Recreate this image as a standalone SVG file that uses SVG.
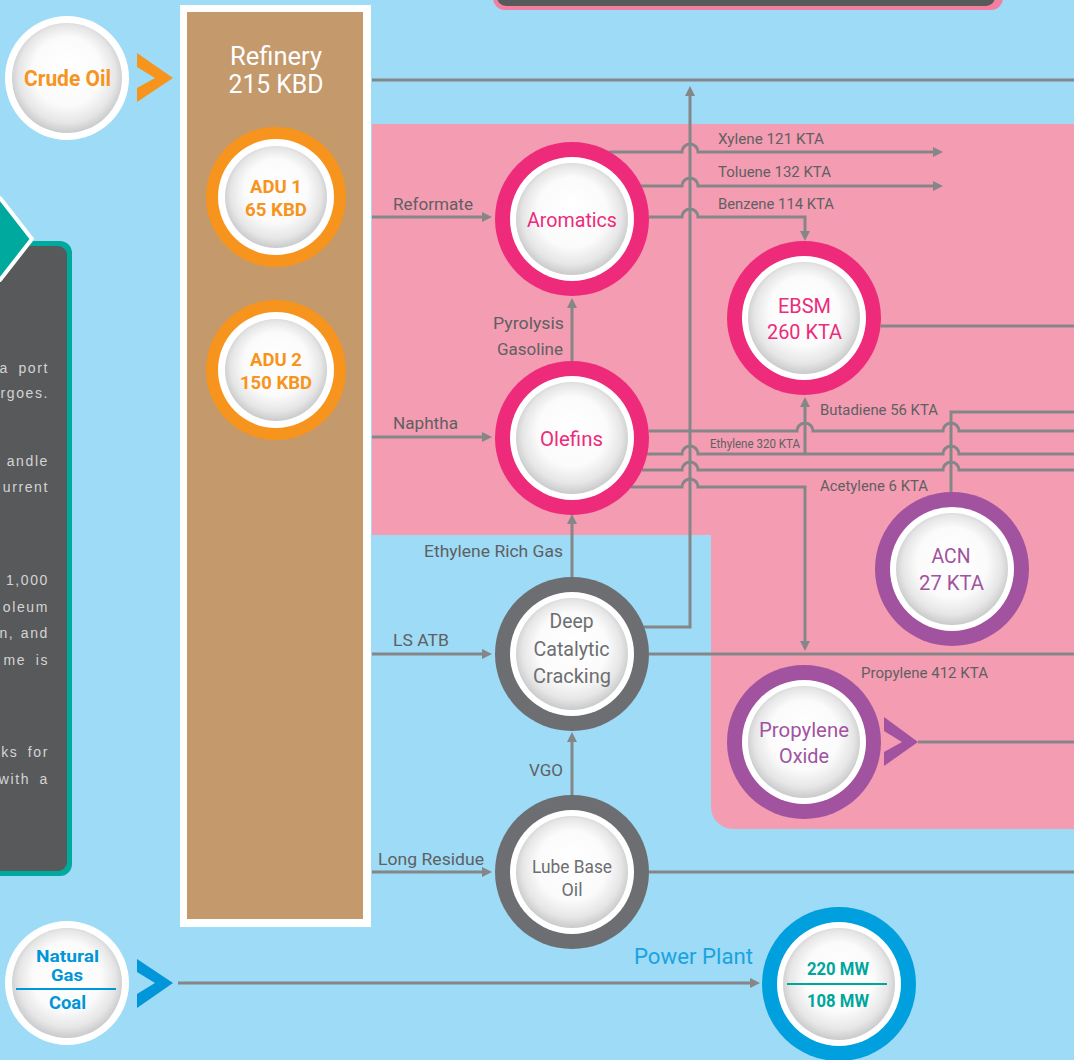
<svg xmlns="http://www.w3.org/2000/svg" width="1074" height="1060" viewBox="0 0 1074 1060">
<defs>
<radialGradient id="pearl" cx="50%" cy="48%" r="52%" fx="50%" fy="38%">
<stop offset="0" stop-color="#ffffff"/>
<stop offset="0.6" stop-color="#fbfbfb"/>
<stop offset="0.85" stop-color="#e6e6e7"/>
<stop offset="1" stop-color="#c9cacb"/>
</radialGradient>
<marker id="arr" markerWidth="10" markerHeight="10" refX="1" refY="5" orient="auto" markerUnits="userSpaceOnUse"><path d="M0,0 L10,5 L0,10 Z" fill="#858688"/></marker>
</defs>
<style>
text{font-family:Roboto,'Liberation Sans',sans-serif}
.lbl{fill:#5f6062;font-size:17px}
.sm{font-size:15px}
.con{fill:none;stroke:#858688;stroke-width:3}
.arr{marker-end:url(#arr)}
.wh{fill:#fff}
.pearl{fill:url(#pearl)}
.mag{fill:#ed2b7a}
.pur{fill:#a1539f}
.gry{fill:#6d6e71}
.org{fill:#f7941d}
.blu{fill:#00a0df}
.nt{font-size:21px;text-anchor:middle}
.b{font-weight:bold}
.side{fill:#d4d4d4;font-size:14px;text-anchor:end;letter-spacing:1.6px;word-spacing:4px;font-family:'Liberation Sans',sans-serif}
</style>

<!-- backgrounds -->
<rect x="0" y="0" width="1074" height="1060" fill="#9ddbf6"/>
<path d="M372,124 H1074 V829 H733 A22 22 0 0 1 711,807 V535 H372 Z" fill="#f49cb2"/>
<rect x="493" y="-40" width="510" height="50" rx="12" fill="#f47ea0"/>
<rect x="497" y="-40" width="498" height="46" rx="9" fill="#58595b"/>

<!-- left info panel -->
<g id="info-panel">
<rect x="-20" y="241" width="92" height="635" rx="12" fill="#00a99d"/>
<rect x="-20" y="246" width="87" height="625" rx="9" fill="#58595b"/>
<polygon points="32,239 0,198 -32,239 0,280" fill="#00a99d" stroke="#fff" stroke-width="4" stroke-linejoin="round"/>
<text class="side" x="49" y="373">a port</text>
<text class="side" x="49" y="398">rgoes.</text>
<text class="side" x="49" y="466">andle</text>
<text class="side" x="49" y="492">urrent</text>
<text class="side" x="49" y="585">1,000</text>
<text class="side" x="49" y="612">oleum</text>
<text class="side" x="49" y="638" style="word-spacing:1px">n, and</text>
<text class="side" x="49" y="665">me is</text>
<text class="side" x="49" y="757">ks for</text>
<text class="side" x="49" y="784">with a</text>
</g>

<!-- connectors -->
<g id="connectors">
<polygon points="137,53 173,78 137,102 137,88 155,78 137,67" fill="#f7941d"/>
<polygon points="137,959 173,983 137,1008 137,994 155,983 137,972" fill="#0096d9"/>
<polygon points="884,717 918,742 884,766 884,752 902,742 884,731" fill="#a1539f"/>
<path class="con" d="M372,80 H1074"/>
<path class="con arr" d="M372,217 H483"/>
<path class="con arr" d="M372,437 H483"/>
<path class="con arr" d="M372,654 H483"/>
<path class="con arr" d="M372,872 H483"/>
<path class="con arr" d="M572,361 V307"/>
<path class="con arr" d="M572,577 V523"/>
<path class="con arr" d="M572,795 V741"/>
<path class="con arr" d="M644,627 H690 V95"/>
<path class="con" d="M649,654 H1074"/>
<path class="con" d="M649,872 H1074"/>
<path class="con arr" d="M609,152 H682 A8,8 0 0 1 698,152 H934"/>
<path class="con arr" d="M641,186 H682 A8,8 0 0 1 698,186 H934"/>
<path class="con arr" d="M649,217 H682 A8,8 0 0 1 698,217 H805 V232"/>
<path class="con" d="M881,326 H1074"/>
<path class="con" d="M649,431 H797 A8,8 0 0 1 813,431 H943 A8,8 0 0 1 959,431 H1074"/>
<path class="con" d="M647,454 H682 A8,8 0 0 1 698,454 H943 A8,8 0 0 1 959,454 H1074"/>
<path class="con arr" d="M805,454 V406"/>
<path class="con" d="M642,470 H682 A8,8 0 0 1 698,470 H943 A8,8 0 0 1 959,470 H1074"/>
<path class="con arr" d="M631,487 H682 A8,8 0 0 1 698,487 H805 V642"/>
<path class="con" d="M951,492 V412 H1074"/>
<path class="con" d="M918,742 H1074"/>
<path class="con arr" d="M178,983 H751"/>
</g>

<!-- connector labels -->
<g id="labels">
<text class="lbl" x="393" y="210" textLength="80" lengthAdjust="spacingAndGlyphs">Reformate</text>
<text class="lbl" x="393" y="429" textLength="65" lengthAdjust="spacingAndGlyphs">Naphtha</text>
<text class="lbl" x="393" y="646" textLength="56" lengthAdjust="spacingAndGlyphs">LS ATB</text>
<text class="lbl" x="378" y="865" textLength="106" lengthAdjust="spacingAndGlyphs">Long Residue</text>
<text class="lbl" x="424" y="557" textLength="139" lengthAdjust="spacingAndGlyphs">Ethylene Rich Gas</text>
<text class="lbl" x="493" y="329" textLength="71" lengthAdjust="spacingAndGlyphs">Pyrolysis</text>
<text class="lbl" x="497" y="355" textLength="66" lengthAdjust="spacingAndGlyphs">Gasoline</text>
<text class="lbl" x="529" y="776" textLength="34" lengthAdjust="spacingAndGlyphs">VGO</text>
<text class="lbl sm" x="718" y="144" textLength="106" lengthAdjust="spacingAndGlyphs">Xylene 121 KTA</text>
<text class="lbl sm" x="718" y="177" textLength="113" lengthAdjust="spacingAndGlyphs">Toluene 132 KTA</text>
<text class="lbl sm" x="718" y="209" textLength="116" lengthAdjust="spacingAndGlyphs">Benzene 114 KTA</text>
<text class="lbl sm" x="820" y="415" textLength="118" lengthAdjust="spacingAndGlyphs">Butadiene 56 KTA</text>
<text class="lbl" x="710" y="448" style="font-size:13px" textLength="90" lengthAdjust="spacingAndGlyphs">Ethylene 320 KTA</text>
<text class="lbl sm" x="820" y="491" textLength="108" lengthAdjust="spacingAndGlyphs">Acetylene 6 KTA</text>
<text class="lbl sm" x="861" y="678" textLength="127" lengthAdjust="spacingAndGlyphs">Propylene 412 KTA</text>
<text x="634" y="964" style="font-size:22px;fill:#1aa3de" textLength="119" lengthAdjust="spacingAndGlyphs">Power Plant</text>
</g>

<!-- Refinery -->
<g id="refinery">
<rect x="180" y="5" width="191" height="922" fill="#fff"/>
<rect x="187" y="12" width="176" height="907" fill="#c4996b"/>
<text class="nt" x="276" y="65" style="font-size:25px;fill:#fff" textLength="92" lengthAdjust="spacingAndGlyphs">Refinery</text>
<text class="nt" x="276" y="93" style="font-size:25px;fill:#fff" textLength="95" lengthAdjust="spacingAndGlyphs">215 KBD</text>
</g>

<g id="crude-oil">
<circle class="wh" cx="67" cy="78" r="62"/>
<circle class="pearl" cx="67" cy="78" r="55"/>
<text class="nt b" x="67.5" y="86" style="font-size:22px;fill:#f7941d" textLength="87" lengthAdjust="spacingAndGlyphs">Crude Oil</text>
</g>

<g id="adu1">
<circle class="org" cx="276" cy="197" r="70"/>
<circle class="wh" cx="276" cy="197" r="58"/>
<circle class="pearl" cx="276" cy="197" r="51"/>
<text class="nt b" x="276" y="193" style="font-size:19px;fill:#f7941d" textLength="52" lengthAdjust="spacingAndGlyphs">ADU 1</text>
<text class="nt b" x="276" y="216" style="font-size:19px;fill:#f7941d" textLength="62" lengthAdjust="spacingAndGlyphs">65 KBD</text>
</g>

<g id="adu2">
<circle class="org" cx="276" cy="370" r="70"/>
<circle class="wh" cx="276" cy="370" r="58"/>
<circle class="pearl" cx="276" cy="370" r="51"/>
<text class="nt b" x="276" y="366" style="font-size:19px;fill:#f7941d" textLength="52" lengthAdjust="spacingAndGlyphs">ADU 2</text>
<text class="nt b" x="276" y="389" style="font-size:19px;fill:#f7941d" textLength="72" lengthAdjust="spacingAndGlyphs">150 KBD</text>
</g>

<g id="aromatics">
<circle class="mag" cx="572" cy="219" r="77"/>
<circle class="wh" cx="572" cy="219" r="62"/>
<circle class="pearl" cx="572" cy="219" r="56"/>
<text class="nt" x="572" y="227" style="fill:#ed2b7a" textLength="90" lengthAdjust="spacingAndGlyphs">Aromatics</text>
</g>

<g id="ebsm">
<circle class="mag" cx="804" cy="318" r="77"/>
<circle class="wh" cx="804" cy="318" r="62"/>
<circle class="pearl" cx="804" cy="318" r="56"/>
<text class="nt" x="804.5" y="313" style="fill:#ed2b7a" textLength="53" lengthAdjust="spacingAndGlyphs">EBSM</text>
<text class="nt" x="804.5" y="339" style="fill:#ed2b7a" textLength="75" lengthAdjust="spacingAndGlyphs">260 KTA</text>
</g>

<g id="olefins">
<circle class="mag" cx="572" cy="438" r="77"/>
<circle class="wh" cx="572" cy="438" r="62"/>
<circle class="pearl" cx="572" cy="438" r="56"/>
<text class="nt" x="571.5" y="446" style="fill:#ed2b7a" textLength="63" lengthAdjust="spacingAndGlyphs">Olefins</text>
</g>

<g id="acn">
<circle class="pur" cx="952" cy="569" r="77"/>
<circle class="wh" cx="952" cy="569" r="62"/>
<circle class="pearl" cx="952" cy="569" r="56"/>
<text class="nt" x="951" y="563" style="fill:#a1539f" textLength="39" lengthAdjust="spacingAndGlyphs">ACN</text>
<text class="nt" x="951.5" y="590" style="fill:#a1539f" textLength="65" lengthAdjust="spacingAndGlyphs">27 KTA</text>
</g>

<g id="dcc">
<circle class="gry" cx="572" cy="654" r="77"/>
<circle class="wh" cx="572" cy="654" r="62"/>
<circle class="pearl" cx="572" cy="654" r="56"/>
<text class="nt" x="571.5" y="628" style="fill:#6d6e71" textLength="44" lengthAdjust="spacingAndGlyphs">Deep</text>
<text class="nt" x="571.5" y="656" style="fill:#6d6e71" textLength="76" lengthAdjust="spacingAndGlyphs">Catalytic</text>
<text class="nt" x="572" y="683" style="fill:#6d6e71" textLength="78" lengthAdjust="spacingAndGlyphs">Cracking</text>
</g>

<g id="propylene-oxide">
<circle class="pur" cx="804" cy="742" r="77"/>
<circle class="wh" cx="804" cy="742" r="62"/>
<circle class="pearl" cx="804" cy="742" r="56"/>
<text class="nt" x="804" y="737" style="fill:#a1539f" textLength="90" lengthAdjust="spacingAndGlyphs">Propylene</text>
<text class="nt" x="804" y="763" style="fill:#a1539f" textLength="50" lengthAdjust="spacingAndGlyphs">Oxide</text>
</g>

<g id="lube-base-oil">
<circle class="gry" cx="572" cy="872" r="77"/>
<circle class="wh" cx="572" cy="872" r="62"/>
<circle class="pearl" cx="572" cy="872" r="56"/>
<text class="nt" x="572" y="873" style="font-size:19px;fill:#6d6e71" textLength="80" lengthAdjust="spacingAndGlyphs">Lube Base</text>
<text class="nt" x="572" y="896" style="font-size:19px;fill:#6d6e71" textLength="21" lengthAdjust="spacingAndGlyphs">Oil</text>
</g>

<g id="natural-gas-coal">
<circle class="wh" cx="67" cy="983" r="62"/>
<circle class="pearl" cx="67" cy="983" r="55"/>
<text class="nt b" x="67.5" y="962" style="font-size:17px;fill:#0096d9" textLength="63" lengthAdjust="spacingAndGlyphs">Natural</text>
<text class="nt b" x="67" y="981" style="font-size:17px;fill:#0096d9" textLength="32" lengthAdjust="spacingAndGlyphs">Gas</text>
<line x1="16" y1="989" x2="116" y2="989" stroke="#0096d9" stroke-width="2"/>
<text class="nt b" x="67.5" y="1009" style="font-size:19px;fill:#0096d9" textLength="37" lengthAdjust="spacingAndGlyphs">Coal</text>
</g>

<g id="power-plant">
<circle class="blu" cx="839" cy="984" r="77"/>
<circle class="wh" cx="839" cy="984" r="62"/>
<circle class="pearl" cx="839" cy="984" r="56"/>
<text class="nt b" x="838" y="975" style="font-size:19px;fill:#00a69c" textLength="62" lengthAdjust="spacingAndGlyphs">220 MW</text>
<line x1="787" y1="984" x2="887" y2="984" stroke="#00a69c" stroke-width="2"/>
<text class="nt b" x="838" y="1007" style="font-size:19px;fill:#00a69c" textLength="62" lengthAdjust="spacingAndGlyphs">108 MW</text>
</g>
</svg>
